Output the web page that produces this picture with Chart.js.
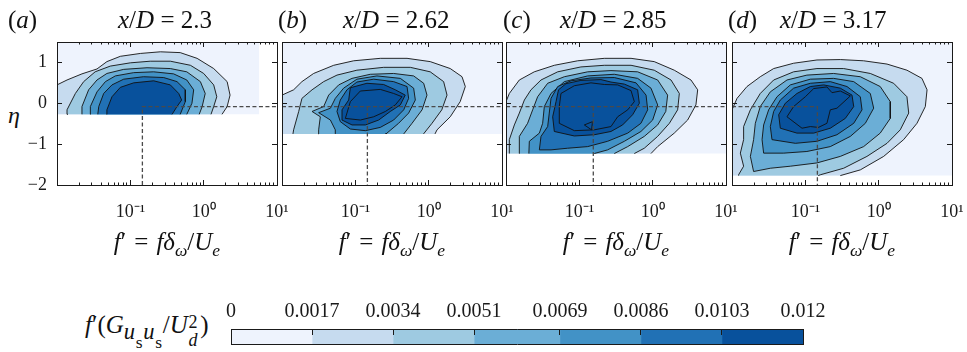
<!DOCTYPE html>
<html lang="en">
<head>
<meta charset="UTF-8">
<title>Premultiplied spectra of u_s across the layer</title>
<script src="https://cdn.jsdelivr.net/npm/chart.js"></script>
<style>
  body { margin: 0; background: #fff; }
  #fig { position: relative; width: 967px; height: 352px; overflow: hidden;
         font-family: 'Liberation Serif', 'Times New Roman', serif; color: #111; }
  #fig canvas { position: absolute; }
  .lbl { position: absolute; white-space: nowrap; line-height: 1; }
  .lbl i { font-style: italic; }
  .lbl sub { font-size: 0.7em; vertical-align: -0.35em; line-height: 0; }
  .lbl sub.s1 { font-size: 0.9em; vertical-align: -0.25em; letter-spacing: 0.03em; }
  .lbl sub.s2 { font-size: 0.78em; vertical-align: -0.5em; }
  .eq { margin: 0 0.32em; }
  .ss { position: relative; display: inline-block; width: 0.5em; height: 0.8em; }
  .ss span { position: absolute; left: 0.05em; font-size: 0.72em; line-height: 1; }
  .ss .up { top: 0.02em; }
  .ss .dn { top: 1.0em; }
</style>
</head>
<body>
<div id="fig">
  <div class="lbl" style="left:8px;top:103px;font-size:24px;"><i>η</i></div>
  <div class="lbl" style="left:85px;top:312px;font-size:25px;"><i>f</i>′(<i>G</i><sub class="s1"><i>u</i><sub class="s2">s</sub><i>u</i><sub class="s2">s</sub></sub>/<i>U</i><span class="ss"><span class="up">2</span><span class="dn"><i>d</i></span></span>)</div>
</div>
<script>
// ---- data ----
const stations = ['2.3', '2.62', '2.85', '3.17'];
const panelTags = ['a', 'b', 'c', 'd'];

const levelBounds = [0, 0.0017, 0.0034, 0.0051, 0.0069, 0.0086, 0.0103, 0.012];
const levelLabels = ['0', '0.0017', '0.0034', '0.0051', '0.0069', '0.0086', '0.0103', '0.012'];
const levelColors = ['#eef3fd', '#c6dbef', '#9ecae1', '#6baed6', '#4292c6', '#2171b5', '#08519c'];

const fMin = 0.01, fMax = 10, etaLo = -2, etaHi = 1.5;
const majorF = [0.01, 0.1, 1, 10];
const xTickLabels = ['', '10⁻¹', '10⁰', '10¹'];
const etaTicks = [-2, -1, 0, 1];
const etaTickLabels = ['−2', '−1', '0', '1'];

// extent of the measured window in each station
const regionFMax = [5.7, 10, 10, 10];
const regionEtaMin = [-0.27, -0.75, -1.23, -1.77];

// spectral peak marker
const peakF = [0.146, 0.146, 0.155, 0.146];
const peakEta = -0.08;

// iso-contours [level, [[f', eta], ...]]
const contA = [
  [1, [[0.01,-0.27],[0.01,0.45],[0.0137,0.57],[0.0219,0.72],[0.0351,0.84],[0.0479,1.02],[0.0731,1.15],[0.137,1.22],[0.257,1.26],[0.479,1.24],[0.813,1.10],[1.37,0.85],[2.09,0.53],[2.29,0.2],[2.09,-0.08],[1.78,-0.27],[0.01,-0.27]]],
  [2, [[0.0141,-0.27],[0.0137,-0.16],[0.0178,0.24],[0.0231,0.53],[0.0331,0.77],[0.0533,0.91],[0.1,0.99],[0.187,1.03],[0.351,1.03],[0.66,0.93],[1.0,0.73],[1.37,0.45],[1.51,0.16],[1.37,-0.08],[1.26,-0.27],[0.0141,-0.27]]],
  [3, [[0.0219,-0.27],[0.0219,-0.08],[0.027,0.33],[0.0351,0.57],[0.0479,0.73],[0.0812,0.83],[0.169,0.87],[0.351,0.85],[0.589,0.77],[0.902,0.53],[1.05,0.24],[0.954,-0.08],[0.87,-0.27],[0.0219,-0.27]]],
  [4, [[0.0282,-0.27],[0.0285,-0.08],[0.0351,0.28],[0.0457,0.53],[0.0624,0.67],[0.111,0.75],[0.208,0.77],[0.389,0.72],[0.589,0.57],[0.731,0.33],[0.692,0],[0.589,-0.27],[0.0282,-0.27]]],
  [5, [[0.036,-0.27],[0.0371,-0.08],[0.0433,0.24],[0.0562,0.45],[0.0812,0.59],[0.151,0.65],[0.285,0.63],[0.433,0.53],[0.562,0.33],[0.562,0.04],[0.479,-0.27],[0.036,-0.27]]],
  [6, [[0.0475,-0.27],[0.0479,-0.16],[0.0562,0.16],[0.0731,0.39],[0.111,0.5],[0.208,0.55],[0.351,0.45],[0.457,0.24],[0.501,0.08],[0.433,-0.08],[0.371,-0.27],[0.0475,-0.27]]]
];
const contB = [
  [1, [[0.01,-0.75],[0.01,0.20],[0.0144,0.33],[0.0187,0.53],[0.027,0.73],[0.0507,0.93],[0.0949,1.04],[0.219,1.10],[0.507,1.10],[1.05,1.02],[1.97,0.85],[2.85,0.65],[3.16,0.41],[2.69,0.04],[1.97,-0.33],[1.30,-0.65],[1.22,-0.75],[0.01,-0.75]]],
  [2, [[0.0141,-0.75],[0.0144,-0.65],[0.0169,-0.20],[0.0187,0.12],[0.0257,0.33],[0.037,0.53],[0.0562,0.69],[0.105,0.81],[0.243,0.88],[0.562,0.88],[1.05,0.77],[1.60,0.53],[1.78,0.20],[1.51,-0.16],[1.11,-0.49],[0.851,-0.75],[0.0141,-0.75]]],
  [3, [[0.0312,-0.75],[0.0316,-0.65],[0.0333,-0.33],[0.0257,-0.20],[0.037,-0.08],[0.0433,0.20],[0.0593,0.45],[0.0901,0.61],[0.16,0.71],[0.333,0.73],[0.624,0.67],[0.855,0.49],[0.949,0.20],[0.813,-0.16],[0.593,-0.49],[0.457,-0.75],[0.0312,-0.75]]],
  [4, [[0.0533,-0.75],[0.0533,-0.65],[0.0457,-0.41],[0.0316,-0.23],[0.0457,-0.12],[0.0533,0.12],[0.0692,0.37],[0.105,0.59],[0.197,0.67],[0.411,0.61],[0.624,0.37],[0.658,0.08],[0.533,-0.24],[0.389,-0.49],[0.27,-0.73],[0.262,-0.75],[0.0533,-0.75]]],
  [5, [[0.0624,-0.45],[0.0562,-0.20],[0.0624,0.08],[0.0769,0.33],[0.105,0.52],[0.178,0.59],[0.333,0.53],[0.507,0.41],[0.533,0.12],[0.457,-0.16],[0.333,-0.41],[0.219,-0.59],[0.137,-0.67],[0.0855,-0.63],[0.0624,-0.45]]],
  [6, [[0.0658,-0.41],[0.0658,-0.16],[0.0811,0.08],[0.0855,0.38],[0.144,0.49],[0.243,0.46],[0.351,0.33],[0.479,0.20],[0.411,-0.04],[0.30,-0.20],[0.208,-0.41],[0.137,-0.53],[0.0901,-0.53],[0.0658,-0.41]]],
  [7, [[0.0731,-0.37],[0.0855,0.04],[0.117,0.30],[0.219,0.34],[0.333,0.24],[0.433,0.16],[0.351,-0.04],[0.257,-0.20],[0.178,-0.33],[0.117,-0.41],[0.0731,-0.37]]]
];
const contC = [
  [1, [[0.01,-1.23],[0.01,0.04],[0.0111,0.24],[0.0152,0.57],[0.0243,0.77],[0.0456,0.93],[0.0949,1.04],[0.219,1.10],[0.507,1.10],[1.05,1.02],[1.97,0.81],[3.33,0.57],[4.11,0.33],[3.89,-0.04],[3.0,-0.41],[1.97,-0.73],[1.17,-1.06],[0.949,-1.23],[0.01,-1.23]]],
  [2, [[0.0111,-1.23],[0.0111,-0.89],[0.013,-0.53],[0.0152,-0.24],[0.0178,0.08],[0.0219,0.33],[0.03,0.57],[0.0507,0.77],[0.105,0.89],[0.219,0.93],[0.507,0.93],[1.05,0.81],[1.78,0.57],[2.31,0.24],[2.19,-0.16],[1.69,-0.49],[1.17,-0.81],[0.769,-1.10],[0.562,-1.23],[0.0111,-1.23]]],
  [3, [[0.0151,-1.23],[0.0152,-0.81],[0.0197,-0.49],[0.0231,-0.16],[0.027,0.16],[0.037,0.49],[0.0624,0.65],[0.13,0.77],[0.27,0.80],[0.624,0.77],[1.17,0.57],[1.60,0.20],[1.51,-0.20],[1.17,-0.53],[0.769,-0.81],[0.457,-1.06],[0.30,-1.23],[0.0151,-1.23]]],
  [4, [[0.0205,-1.23],[0.0208,-0.93],[0.0285,-0.73],[0.0316,-0.49],[0.0333,-0.08],[0.0411,0.24],[0.0624,0.53],[0.13,0.67],[0.30,0.71],[0.624,0.61],[0.949,0.37],[1.17,-0.04],[1.0,-0.41],[0.692,-0.69],[0.411,-0.93],[0.243,-1.14],[0.16,-1.23],[0.0205,-1.23]]],
  [5, [[0.0285,-1.14],[0.030,-0.81],[0.037,-0.57],[0.0389,-0.24],[0.0411,0.12],[0.0507,0.41],[0.0769,0.55],[0.144,0.62],[0.30,0.63],[0.593,0.50],[0.813,0.20],[0.855,-0.16],[0.692,-0.49],[0.457,-0.73],[0.243,-0.93],[0.13,-1.06],[0.0692,-1.10],[0.0411,-1.14],[0.0285,-1.14]]],
  [6, [[0.0456,-0.69],[0.0433,-0.33],[0.0481,0.04],[0.052,0.33],[0.0658,0.48],[0.105,0.56],[0.197,0.58],[0.27,0.52],[0.411,0.47],[0.624,0.33],[0.658,0],[0.533,-0.28],[0.389,-0.53],[0.27,-0.69],[0.16,-0.77],[0.0855,-0.80],[0.0456,-0.69]]],
  [7, [[0.0533,-0.49],[0.0533,-0.08],[0.0562,0.24],[0.0855,0.43],[0.144,0.50],[0.219,0.46],[0.333,0.45],[0.507,0.31],[0.562,0.04],[0.457,-0.16],[0.333,-0.33],[0.27,-0.57],[0.16,-0.65],[0.0855,-0.67],[0.0533,-0.49]]],
  [6, [[0.117,-0.53],[0.151,-0.45],[0.147,-0.65],[0.117,-0.53]]]
];
const contD = [
  [1, [[0.01,-1.77],[0.01,-0.16],[0.0117,0.12],[0.016,0.41],[0.0243,0.65],[0.037,0.85],[0.0692,0.98],[0.144,1.06],[0.30,1.07],[0.624,1.04],[1.30,0.96],[2.43,0.81],[3.89,0.61],[4.57,0.33],[4.33,-0.08],[3.33,-0.49],[2.19,-0.89],[1.17,-1.30],[0.562,-1.63],[0.30,-1.77],[0.01,-1.77]]],
  [2, [[0.0123,-1.77],[0.0123,-1.75],[0.0144,-1.54],[0.013,-1.22],[0.0144,-0.89],[0.0144,-0.57],[0.0178,-0.16],[0.0243,0.24],[0.037,0.57],[0.0692,0.77],[0.144,0.85],[0.333,0.85],[0.769,0.73],[1.60,0.49],[2.43,0.16],[2.57,-0.24],[1.97,-0.65],[1.30,-0.98],[0.692,-1.30],[0.333,-1.59],[0.16,-1.75],[0.15,-1.77],[0.0123,-1.77]]],
  [3, [[0.0197,-1.67],[0.0178,-1.30],[0.0197,-0.89],[0.0208,-0.49],[0.0243,-0.08],[0.0333,0.28],[0.0562,0.57],[0.105,0.69],[0.243,0.73],[0.562,0.65],[1.05,0.41],[1.44,0.04],[1.44,-0.37],[1.05,-0.73],[0.624,-1.06],[0.30,-1.30],[0.144,-1.46],[0.0624,-1.54],[0.0333,-1.59],[0.0197,-1.67]]],
  [4, [[0.027,-1.22],[0.0257,-0.89],[0.027,-0.53],[0.0316,-0.16],[0.0411,0.16],[0.0624,0.45],[0.117,0.59],[0.243,0.61],[0.457,0.53],[0.769,0.24],[0.855,-0.12],[0.658,-0.49],[0.411,-0.81],[0.219,-1.06],[0.105,-1.18],[0.0507,-1.22],[0.027,-1.22]]],
  [5, [[0.0351,-0.89],[0.0333,-0.57],[0.037,-0.20],[0.0456,0.08],[0.0692,0.37],[0.117,0.49],[0.219,0.53],[0.37,0.41],[0.562,0.16],[0.593,-0.16],[0.457,-0.49],[0.27,-0.77],[0.144,-0.93],[0.0731,-0.98],[0.0351,-0.89]]],
  [6, [[0.0456,-0.61],[0.0433,-0.28],[0.0533,0],[0.0769,0.24],[0.117,0.41],[0.178,0.45],[0.30,0.37],[0.433,0.20],[0.457,-0.08],[0.351,-0.37],[0.219,-0.61],[0.13,-0.73],[0.0769,-0.73],[0.0456,-0.61]]],
  [7, [[0.0562,-0.33],[0.0692,-0.08],[0.1,0.16],[0.13,0.36],[0.197,0.40],[0.231,0.26],[0.30,0.30],[0.411,0.18],[0.27,-0.12],[0.219,-0.16],[0.197,-0.49],[0.151,-0.59],[0.117,-0.57],[0.0901,-0.61],[0.0562,-0.33]]]
];
const panelContours = [contA, contB, contC, contD];

// ---- layout ----
const fig = document.getElementById('fig');
const serif = "'Liberation Serif', 'Times New Roman', serif";
const ink = '#1a1a1a';
const panelLeft = [57, 282, 506, 732];
const plotTop = 42, plotW = 220, plotH = 143;
const padL = 50, padR = 14, padT = 10, padB = 45;
const tagLeft = [8, 278, 503, 728];
const stationLeft = [118, 343, 560, 780];

// minor log ticks 2..9 in every decade
const minorF = [];
for (const dec of [0.01, 0.1, 1]) for (let k = 2; k <= 9; k++) minorF.push(+(k * dec).toPrecision(3));

// fixed axis box, no extra room for overhanging labels
function fixBox(s, w, h) {
  if (w !== null) s.width = w;
  if (h !== null) s.height = h;
  s.paddingLeft = s.paddingRight = s.paddingTop = s.paddingBottom = 0;
}

function addText(html, left, top, size, centre) {
  const d = document.createElement('div');
  d.className = 'lbl';
  d.style.left = left + 'px';
  d.style.top = top + 'px';
  d.style.fontSize = size + 'px';
  if (centre) d.style.transform = 'translateX(-50%)';
  d.innerHTML = html;
  fig.appendChild(d);
}

function poly(pts, color, width, order) {
  return {
    data: pts.map(p => ({x: p[0], y: p[1]})),
    showLine: true, fill: 'shape', tension: 0,
    backgroundColor: color,
    borderColor: width > 0 ? '#111' : 'rgba(0,0,0,0)',
    borderWidth: width, pointRadius: 0, order,
    xAxisID: 'x', yAxisID: 'y'
  };
}

function xScale(pos, ticks, len, labels, weight, size) {
  return {
    type: 'logarithmic', axis: 'x', position: pos, min: fMin, max: fMax, weight,
    afterBuildTicks: s => { s.ticks = ticks.map(v => ({value: v})); },
    afterFit: s => fixBox(s, null, size),
    ticks: { display: !!labels, autoSkip: false, maxRotation: 0, padding: 21, color: ink,
             font: {family: serif, size: 18}, callback: (v, i) => labels ? labels[i] : '' },
    grid: { drawOnChartArea: false, tickLength: len, tickColor: ink, tickWidth: 1, z: 1 },
    border: { display: size > 0, color: ink, width: 1, z: 1 }
  };
}

function yScale(pos, labels, size) {
  return {
    type: 'linear', axis: 'y', position: pos, min: etaLo, max: etaHi,
    afterBuildTicks: s => { s.ticks = etaTicks.map(v => ({value: v})); },
    afterFit: s => fixBox(s, size, null),
    ticks: { display: !!labels, padding: 15, color: ink,
             font: {family: serif, size: 18}, callback: (v, i) => labels ? labels[i] : '' },
    grid: { drawOnChartArea: false, tickLength: -5, tickColor: ink, tickWidth: 1, z: 1 },
    border: { display: true, color: ink, width: 1, z: 1 }
  };
}

function makePanel(i) {
  const cv = document.createElement('canvas');
  cv.width = padL + plotW + padR;
  cv.height = padT + plotH + padB;
  cv.style.left = (panelLeft[i] - padL) + 'px';
  cv.style.top = (plotTop - padT) + 'px';
  fig.appendChild(cv);

  const cut = regionEtaMin[i];
  const onCut = p => Math.abs(p.parsed.y - cut) < 1e-6;
  const datasets = [];

  // measured window in the lowest band colour
  const fr = regionFMax[i];
  datasets.push(poly([[fMin, cut], [fr, cut], [fr, etaHi], [fMin, etaHi], [fMin, cut]], levelColors[0], 0, 100));

  panelContours[i].forEach(([lvl, pts], k) => {
    const ds = poly(pts, levelColors[Math.min(lvl, 6)], 0.9, 50 - k);
    // no contour line along the lower edge of the window
    ds.segment = { borderColor: c => (onCut(c.p0) && onCut(c.p1)) ? 'rgba(0,0,0,0)' : undefined };
    datasets.push(ds);
  });

  // dashed guide through the spectral peak
  const fp = peakF[i];
  let guides;
  if (i === 0) guides = [[[fp, etaLo], [fp, peakEta], [fMax, peakEta]]];
  else if (i === 3) guides = [[[fMin, peakEta], [fp, peakEta], [fp, etaLo]]];
  else guides = [[[fMin, peakEta], [fMax, peakEta]], [[fp, peakEta], [fp, etaLo]]];
  guides.forEach(g => datasets.push({
    data: g.map(p => ({x: p[0], y: p[1]})), showLine: true, fill: false,
    borderColor: '#4a4a4a', borderWidth: 1.3, borderDash: [4, 2.5], pointRadius: 0,
    order: 0, xAxisID: 'x', yAxisID: 'y'
  }));

  new Chart(cv, {
    type: 'scatter',
    data: {datasets},
    options: {
      responsive: false, animation: false, devicePixelRatio: 1, events: [],
      layout: {padding: 0},
      plugins: {legend: {display: false}, tooltip: {enabled: false}},
      scales: {
        x: xScale('bottom', majorF, -5, xTickLabels, 1, padB),
        xm: xScale('bottom', minorF, -2.5, null, 0, 0),
        xt: xScale('top', majorF, -5, null, 1, padT),
        xtm: xScale('top', minorF, -2.5, null, 0, 0),
        y: yScale('left', i === 0 ? etaTickLabels : null, padL),
        yr: yScale('right', null, padR)
      }
    }
  });

  addText(`(<i>${panelTags[i]}</i>)`, tagLeft[i], 7, 25, false);
  addText(`<i>x</i>/<i>D</i> = ${stations[i]}`, stationLeft[i], 7, 25, false);
  addText(`<i>f</i>′<span class="eq">=</span><i>f</i><i>δ</i><sub><i>ω</i></sub>/<i>U</i><sub><i>e</i></sub>`,
          panelLeft[i] + plotW / 2, 229, 25, true);
}

for (let i = 0; i < 4; i++) makePanel(i);

// ---- colour bar ----
const cbLeft = 231, cbTop = 329, cbW = 572, cbH = 15;
const cbPadX = 40, cbPadTop = 36, cbPadBottom = 8;
const cb = document.createElement('canvas');
cb.width = cbW + 2 * cbPadX;
cb.height = cbPadTop + cbH + cbPadBottom;
cb.style.left = (cbLeft - cbPadX) + 'px';
cb.style.top = (cbTop - cbPadTop) + 'px';
fig.appendChild(cb);

const edgeAxis = (axis, pos) => ({
  type: axis === 'x' ? 'linear' : 'category', axis, position: pos,
  min: axis === 'x' ? levelBounds[0] : undefined,
  max: axis === 'x' ? levelBounds[levelBounds.length - 1] : undefined,
  afterFit: s => (axis === 'x' ? fixBox(s, null, 0) : fixBox(s, 0, null)),
  ticks: {display: false}, grid: {display: false},
  border: {display: true, color: ink, width: 1, z: 1}
});

new Chart(cb, {
  type: 'bar',
  data: {
    labels: [''],
    datasets: levelColors.map((c, k) => ({
      data: [[levelBounds[k], levelBounds[k + 1]]],
      backgroundColor: c, borderWidth: 0, grouped: false,
      barPercentage: 1, categoryPercentage: 1, xAxisID: 'x', yAxisID: 'y'
    }))
  },
  options: {
    indexAxis: 'y', responsive: false, animation: false, devicePixelRatio: 1, events: [],
    layout: {padding: {left: cbPadX, right: cbPadX, top: 0, bottom: cbPadBottom}},
    plugins: {legend: {display: false}, tooltip: {enabled: false}},
    scales: {
      x: {
        type: 'linear', axis: 'x', position: 'top',
        min: levelBounds[0], max: levelBounds[levelBounds.length - 1],
        afterBuildTicks: s => { s.ticks = levelBounds.map(v => ({value: v})); },
        afterFit: s => fixBox(s, null, cbPadTop),
        ticks: { autoSkip: false, maxRotation: 0, padding: 11, color: ink,
                 font: {family: serif, size: 20}, callback: (v, i) => levelLabels[i] },
        grid: { drawOnChartArea: false, tickLength: -6, tickColor: ink, tickWidth: 1, z: 1 },
        border: { display: true, color: ink, width: 1, z: 1 }
      },
      xb: edgeAxis('x', 'bottom'),
      y: edgeAxis('y', 'left'),
      yr: edgeAxis('y', 'right')
    }
  }
});
</script>
</body>
</html>
